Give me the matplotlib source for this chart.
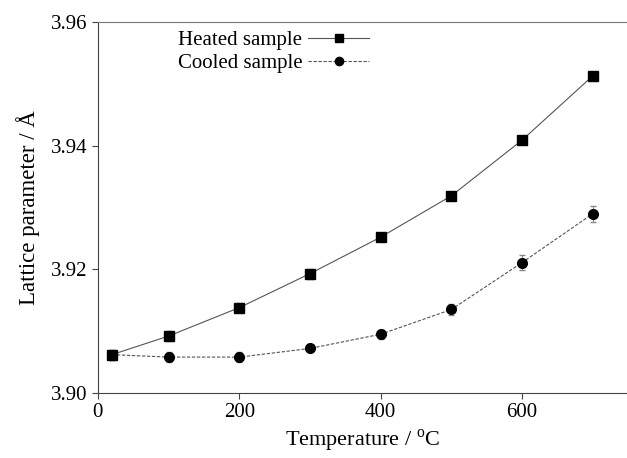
import matplotlib
matplotlib.use("Agg")
import matplotlib.pyplot as plt

plt.rcParams['font.family'] = ['Liberation Serif', 'DejaVu Serif']
plt.rcParams['mathtext.fontset'] = 'custom'
plt.rcParams['mathtext.rm'] = 'Liberation Serif'

# temperatures (C) and lattice parameters (A)
temp = [20, 100, 200, 300, 400, 500, 600, 700]
heated = [3.9062, 3.9092, 3.9138, 3.9193, 3.9252, 3.9319, 3.9409, 3.9513]
heated_err = [0.0008, 0.0008, 0.0007, 0.0008, 0.0006, 0.0006, 0.0006, 0.0006]
cooled = [3.9062, 3.9058, 3.9058, 3.9072, 3.9095, 3.9135, 3.9211, 3.9290]
cooled_err = [0.0008, 0.0008, 0.0008, 0.0006, 0.0007, 0.0009, 0.0012, 0.0013]

fig = plt.figure(figsize=(6.27, 4.58), dpi=100)
ax = fig.add_axes([0.156, 0.142, 0.846, 0.81])

ax.errorbar(temp, heated, yerr=heated_err, color='#555555', lw=0.8,
            marker='s', ms=7, mfc='black', mec='black', ecolor='#888888',
            elinewidth=0.7, capsize=2, label='Heated sample')
ax.errorbar(temp, cooled, yerr=cooled_err, color='#555555', lw=0.8,
            ls=(0, (3, 1.5)), marker='o', ms=7, mfc='black', mec='black',
            ecolor='#888888', elinewidth=0.7, capsize=2, label='Cooled sample')

ax.set_xlim(0, 750)
ax.set_ylim(3.90, 3.96)
ax.set_xticks([0, 200, 400, 600])
ax.set_yticks([3.90, 3.92, 3.94, 3.96])
ax.set_yticklabels(['3.90', '3.92', '3.94', '3.96'])
ax.tick_params(labelsize=15, direction='out', length=4, color='#444444')
ax.spines['right'].set_visible(False)
ax.spines['top'].set_color('#777777')
for s in ['left', 'bottom']:
    ax.spines[s].set_color('#444444')

ax.set_xlabel('Temperature / $^{\\mathrm{o}}$C', fontsize=16, labelpad=4)
ax.set_ylabel('Lattice parameter / Å', fontsize=16.5, labelpad=8)

h, l = ax.get_legend_handles_labels()
h = [x[0] for x in h]
ax.legend(h, l, loc='upper left', bbox_to_anchor=(0.115, 1.027), frameon=False,
          markerfirst=False, fontsize=15, handlelength=2.9, markerscale=0.85,
          labelspacing=0.15, handletextpad=0.3)

fig.savefig('out.png', dpi=100)
